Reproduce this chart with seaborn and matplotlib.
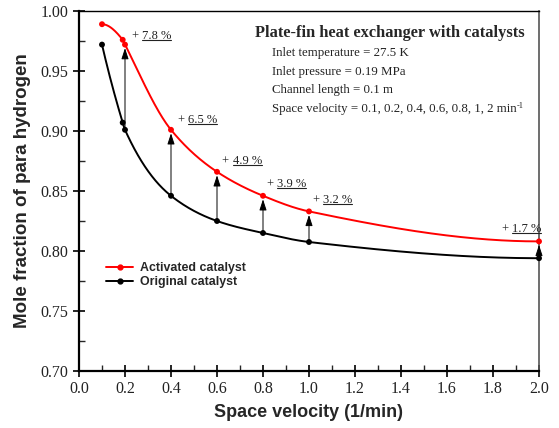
import numpy as np
import pandas as pd
import seaborn as sns
import matplotlib
matplotlib.use("Agg")
import matplotlib.pyplot as plt
from matplotlib.lines import Line2D
from matplotlib.transforms import IdentityTransform
from matplotlib.ticker import MultipleLocator, FormatStrFormatter

# Mole fraction of para hydrogen at the outlet vs. space velocity
velocity = [0.1, 0.19, 0.2, 0.4, 0.6, 0.8, 1.0, 2.0]
activated = [0.989, 0.976, 0.972, 0.901, 0.866, 0.846, 0.833, 0.808]
original = [0.972, 0.907, 0.901, 0.846, 0.825, 0.815, 0.8075, 0.794]

# Relative improvement of the activated catalyst
gain_x = [0.2, 0.4, 0.6, 0.8, 1.0, 2.0]
gain_pct = ["7.8", "6.5", "4.9", "3.9", "3.2", "1.7"]
gain_text_xy = [(0.229, 0.979), (0.429, 0.909), (0.623, 0.875),
                (0.816, 0.856), (1.016, 0.8425), (1.838, 0.818)]

info_title = "Plate-fin heat exchanger with catalysts"
info_lines = ["Inlet temperature = 27.5 K",
              "Inlet pressure = 0.19 MPa",
              "Channel length = 0.1 m",
              "Space velocity = 0.1, 0.2, 0.4, 0.6, 0.8, 1, 2 min"]
info_unit_sup = "-1"


def pchip(x, y, xs):
    """Shape-preserving cubic Hermite interpolation for drawing smooth curves."""
    x = np.asarray(x, float)
    y = np.asarray(y, float)
    h = np.diff(x)
    delta = np.diff(y) / h
    n = len(x)
    d = np.zeros(n)
    for k in range(1, n - 1):
        if delta[k - 1] * delta[k] > 0:
            w1 = 2 * h[k] + h[k - 1]
            w2 = h[k] + 2 * h[k - 1]
            d[k] = (w1 + w2) / (w1 / delta[k - 1] + w2 / delta[k])

    def end(h0, h1, d0, d1):
        s = ((2 * h0 + h1) * d0 - h0 * d1) / (h0 + h1)
        if np.sign(s) != np.sign(d0):
            s = 0.0
        elif np.sign(d0) != np.sign(d1) and abs(s) > abs(3 * d0):
            s = 3 * d0
        return s

    d[0] = end(h[0], h[1], delta[0], delta[1])
    d[-1] = end(h[-1], h[-2], delta[-1], delta[-2])
    idx = np.clip(np.searchsorted(x, xs) - 1, 0, n - 2)
    t = (xs - x[idx]) / h[idx]
    h00 = 2 * t**3 - 3 * t**2 + 1
    h10 = t**3 - 2 * t**2 + t
    h01 = -2 * t**3 + 3 * t**2
    h11 = t**3 - t**2
    return (h00 * y[idx] + h10 * h[idx] * d[idx]
            + h01 * y[idx + 1] + h11 * h[idx] * d[idx + 1])


sns.set_theme(style="ticks")
plt.rcParams["font.family"] = ["Liberation Serif", "DejaVu Serif"]

W, H = 559, 428
fig = plt.figure(figsize=(W / 100, H / 100), dpi=100)
ax = fig.add_axes([79 / W, 57 / H, 460 / W, 360 / H])

xs = np.linspace(min(velocity), max(velocity), 500)
curves = pd.DataFrame({
    "velocity": np.concatenate([xs, xs]),
    "fraction": np.concatenate([pchip(velocity, activated, xs),
                                pchip(velocity, original, xs)]),
    "catalyst": ["Activated catalyst"] * len(xs) + ["Original catalyst"] * len(xs),
})
points = pd.DataFrame({
    "velocity": velocity * 2,
    "fraction": activated + original,
    "catalyst": ["Activated catalyst"] * len(velocity) + ["Original catalyst"] * len(velocity),
})
palette = {"Activated catalyst": "#ff0000", "Original catalyst": "#000000"}

sns.lineplot(data=curves, x="velocity", y="fraction", hue="catalyst",
             palette=palette, estimator=None, sort=False, lw=1.4,
             legend=False, ax=ax, clip_on=False, zorder=3)
sns.scatterplot(data=points, x="velocity", y="fraction", hue="catalyst",
                palette=palette, s=18, edgecolor="none", legend=False,
                ax=ax, clip_on=False, zorder=4)

# Arrows from the original to the activated catalyst
for gx in gain_x:
    i = velocity.index(gx)
    ax.annotate("", xy=(gx, activated[i]), xytext=(gx, original[i]),
                arrowprops=dict(arrowstyle="-|>,head_length=0.55,head_width=0.18",
                                color="black", lw=0.7, shrinkA=0, shrinkB=2.5),
                annotation_clip=False, zorder=5)

# "+ x.x %" labels with the number part underlined
number_texts = []
for pct, (tx, ty) in zip(gain_pct, gain_text_xy):
    plus = ax.text(tx, ty, "+ ", fontsize=9, ha="left", va="center",
                   color="#222222")
    num = ax.annotate(pct + " %", xy=(1, 0), xycoords=plus, ha="left",
                      va="bottom", fontsize=9, color="#222222")
    number_texts.append(num)

ax.set_xlim(0.0, 2.0)
ax.set_ylim(0.70, 1.00)
ax.xaxis.set_major_locator(MultipleLocator(0.2))
ax.xaxis.set_minor_locator(MultipleLocator(0.1))
ax.yaxis.set_major_locator(MultipleLocator(0.05))
ax.yaxis.set_minor_locator(MultipleLocator(0.025))
ax.xaxis.set_major_formatter(FormatStrFormatter("%.1f"))
ax.yaxis.set_major_formatter(FormatStrFormatter("%.2f"))
ax.tick_params(which="major", direction="inout", length=9, width=1.2,
               labelsize=11.5, colors="black", pad=3)
ax.tick_params(which="minor", direction="in", length=4, width=1.0)
ax.tick_params(axis="y", which="both", right=False)
ax.tick_params(axis="x", which="both", top=False)
for lab in ax.get_xticklabels() + ax.get_yticklabels():
    lab.set_color("#222222")

for side in ("left", "bottom"):
    ax.spines[side].set_linewidth(1.6)
    ax.spines[side].set_color("black")
ax.spines["top"].set_linewidth(1.0)
ax.spines["top"].set_color("black")
ax.spines["right"].set_linewidth(1.2)
ax.spines["right"].set_color("#555555")
ax.set_facecolor("white")

ax.set_xlabel("Space velocity (1/min)", fontsize=13, fontweight="bold",
              family="Liberation Sans", labelpad=5)
ax.set_ylabel("Mole fraction of para hydrogen", fontsize=13.5, fontweight="bold",
              family="Liberation Sans", labelpad=7)

handles = [Line2D([], [], color=palette[k], marker="o", markersize=3.5, lw=1.4)
           for k in palette]
leg = ax.legend(handles, list(palette), loc="center left",
                bbox_to_anchor=(0.035, 0.266), frameon=False,
                handlelength=2.2, handletextpad=0.5, labelspacing=0.2,
                prop={"family": "Liberation Sans", "weight": "bold", "size": 8.9})

fig.text(255 / W, 1 - 33 / H, info_title, fontsize=11.8, fontweight="bold",
         ha="left", va="center")
info_texts = []
for j, line in enumerate(info_lines):
    info_texts.append(fig.text(272 / W, 1 - (53 + j * 18.7) / H, line,
                               fontsize=9.3, ha="left", va="center",
                               color="#222222"))
# superscript on the space-velocity unit
fig.text(0, 1, info_unit_sup, fontsize=6, ha="left", va="bottom",
         color="#222222", transform=fig.transFigure)
sup = fig.texts[-1]

# Underlines beneath the percentage numbers
fig.canvas.draw()
for num in number_texts:
    bb = num.get_window_extent()
    fig.add_artist(Line2D([bb.x0, bb.x1], [bb.y0 + 2.0, bb.y0 + 2.0],
                          transform=IdentityTransform(), color="#222222",
                          lw=0.8))
last = info_texts[-1].get_window_extent()
sup.set_transform(IdentityTransform())
sup.set_position((last.x1 + 0.5, last.y1 - 7))

fig.savefig("out.png", dpi=100, facecolor="white")
